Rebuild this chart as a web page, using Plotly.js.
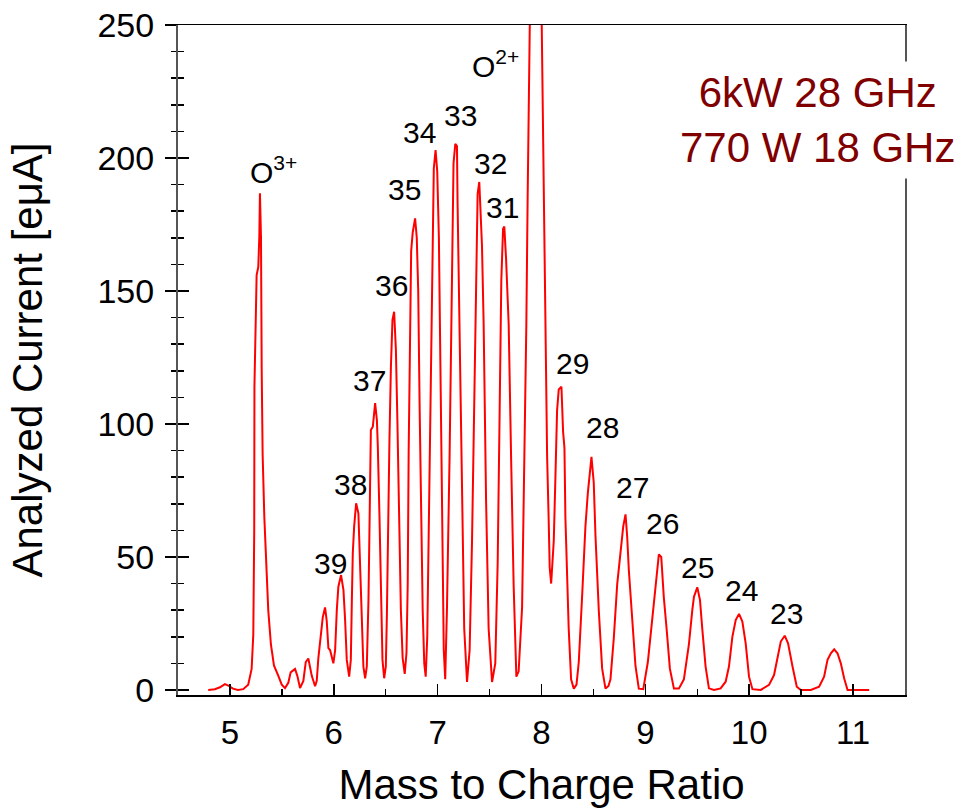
<!DOCTYPE html>
<html>
<head>
<meta charset="utf-8">
<script src="https://cdn.plot.ly/plotly-3.0.1.min.js"></script>
<style>html,body{margin:0;padding:0;background:#fff;}#chart{width:958px;height:808px;}</style>
</head>
<body>
<div id="chart"></div>
<script>
// Mass-to-charge ratio (x) and analyzed current in eμA (y)
const massToCharge = [
 4.791,4.855,4.904,4.952,4.990,5.029,5.077,5.128,5.176,5.209,5.225,5.234,5.236,5.248,5.257,5.273,5.283,5.289,5.299,5.306,
 5.315,5.331,5.354,5.369,5.395,5.424,5.466,5.499,5.530,5.562,5.585,5.627,5.649,5.675,5.707,5.730,5.755,5.771,5.788,5.820,
 5.836,5.851,5.875,5.894,5.916,5.932,5.948,5.964,5.996,6.013,6.029,6.044,6.070,6.093,6.109,6.125,6.148,6.164,6.174,6.183,
 6.196,6.215,6.237,6.254,6.270,6.285,6.302,6.318,6.334,6.343,6.357,6.376,6.398,6.415,6.424,6.440,6.453,6.469,6.485,6.501,
 6.511,6.521,6.536,6.550,6.565,6.581,6.598,6.613,6.630,6.646,6.663,6.683,6.700,6.712,6.721,6.734,6.745,6.760,6.783,6.799,
 6.813,6.827,6.842,6.856,6.871,6.885,6.900,6.914,6.931,6.947,6.963,6.980,6.996,7.012,7.028,7.044,7.059,7.073,7.090,7.115,
 7.138,7.153,7.170,7.186,7.192,7.211,7.234,7.256,7.283,7.308,7.331,7.353,7.372,7.385,7.401,7.411,7.427,7.443,7.466,7.491,
 7.524,7.555,7.578,7.597,7.613,7.630,7.642,7.659,7.684,7.707,7.732,7.758,7.780,7.813,7.835,7.854,7.867,7.883,7.941,7.999,
 8.021,8.038,8.054,8.069,8.079,8.093,8.118,8.134,8.150,8.166,8.192,8.208,8.221,8.230,8.247,8.262,8.285,8.311,8.337,8.359,
 8.392,8.423,8.446,8.465,8.481,8.503,8.520,8.552,8.584,8.616,8.645,8.664,8.696,8.729,8.761,8.787,8.809,8.825,8.841,8.874,
 8.905,8.937,8.980,9.024,9.067,9.098,9.130,9.153,9.178,9.204,9.236,9.275,9.323,9.371,9.419,9.452,9.468,9.500,9.526,9.549,
 9.580,9.612,9.661,9.725,9.773,9.805,9.838,9.870,9.902,9.934,9.966,9.998,10.031,10.111,10.191,10.239,10.272,10.304,10.342,10.374,
 10.417,10.458,10.497,10.593,10.673,10.721,10.754,10.786,10.818,10.850,10.882,10.914,10.947,11.011,11.155
];
const current = [
 0,0.3,1.0,2.2,1.5,0.5,0,0.3,2,7.9,20.9,60,114,135,156,159,170.5,186.7,170.5,119.7,
 88.5,65.1,41.7,30,17,9.2,5.3,2,0.7,2.7,6.6,7.9,5.3,0.7,3.4,10.5,11.8,9.2,5.3,1.4,
 3.4,11.8,20.9,27.4,31,26,15.7,15,10,15,30,38.8,43.2,37.6,26.3,11.3,5,11.3,33.8,51.4,
 61.4,70.2,66.4,46.4,23.8,8.8,4.4,8.8,33.8,65.2,97.7,99,107.8,101.5,91.5,65.2,33.8,11.3,4.4,8.8,
 27.6,58.9,94,121.5,139.1,142.2,128,100,62,30,12,6,14,40,90,140,165,172,177.3,170,
 150,105,62,30,10,5,20,60,108,170,196,203,195,170,108,57,15,4,31,88,
 154,198,205.3,204.5,183,137.5,72,23,3,15,56,113,167,186.5,191,183,167,137.5,72,23,
 3,10,47.6,105,154,173.4,174.2,162,137.5,88,39,5,7,31,80,137.5,186.5,260,420,260,
 186.5,137.5,88,64,46,40,56,80,105,113,114,97,91,65,42,23,4,0.5,2,10.5,
 36,61.5,74,80.6,87.6,78,57.7,29.6,8,0.5,1.5,4,19.4,39.8,52.6,61.5,66,57.7,45,27,
 9,0.5,0.3,10.5,27,41,51,50,34.7,23.3,8,0.5,0.5,4,17,30,35,38.6,33.8,22.6,
 8.8,0.6,0,0.6,3.1,8.8,20,26.3,28.6,25.7,17.5,5,0.3,0,1.9,5.6,12.5,18.2,20.4,17.5,
 8.8,1.2,0,0,1.2,5,11.3,13.8,15.3,13.8,10,4.4,0,0,0
];
// Peak labels (charge states) and their positions
const peakLabels = ["O<sup>3+</sup>","39","38","37","36","35","34","33","32","31","O<sup>2+</sup>","29","28","27","26","25","24","23"];
const labelX = [5.415,5.964,6.157,6.340,6.553,6.678,6.827,7.223,7.507,7.626,7.560,8.303,8.587,8.877,9.166,9.499,9.923,10.362];
const labelY = [195.5,47.7,77.4,116.2,152.1,188.0,209.4,215.9,197.9,181.4,235.3,122.7,98.7,76.1,62.4,46.1,37.4,28.8];
const conditionText = "6kW 28 GHz<br>770 W 18 GHz";

const FONT = 'Arial, "Liberation Sans", sans-serif';

const traces = [
  {x: massToCharge, y: current, type: 'scatter', mode: 'lines',
   line: {color: '#ff0000', width: 2}, hoverinfo: 'skip', showlegend: false},
  {x: [null], y: [null], yaxis: 'y2', type: 'scatter', mode: 'lines', hoverinfo: 'skip', showlegend: false}
];

const annotations = peakLabels.map((t, i) => ({
  x: labelX[i], y: labelY[i], xref: 'x', yref: 'y', text: t, showarrow: false,
  xanchor: 'center', yanchor: 'middle', font: {family: FONT, size: 30, color: '#000'}
}));
annotations.push({
  xref: 'paper', yref: 'paper', x: 0.879, y: 0.858, xanchor: 'center', yanchor: 'middle',
  text: conditionText, showarrow: false, bgcolor: '#ffffff', borderpad: 7,
  font: {family: FONT, size: 42, color: '#800000'}
});

const layout = {
  width: 958, height: 808,
  margin: {l: 178, r: 53, t: 25, b: 113},
  paper_bgcolor: '#fff', plot_bgcolor: '#fff',
  font: {family: FONT, color: '#000'},
  showlegend: false,
  xaxis: {
    range: [4.5, 11.5], tick0: 5, dtick: 1, ticks: 'inside', ticklen: 11, tickwidth: 1.5, tickcolor: '#000',
    minor: {dtick: 0.5, ticks: 'inside', ticklen: 6, tickwidth: 1.5, tickcolor: '#000'},
    showline: true, linecolor: '#000', linewidth: 1.5, mirror: true, showgrid: false, zeroline: false,
    tickfont: {family: FONT, size: 33, color: '#000'}, ticklabelstandoff: 8,
    title: {text: 'Mass to Charge Ratio', font: {family: FONT, size: 42, color: '#000'}, standoff: 22}
  },
  yaxis: {
    range: [-1.9, 250], tick0: 0, dtick: 50, ticks: 'outside', ticklen: 11, tickwidth: 1.5, tickcolor: '#000',
    minor: {dtick: 10, ticks: 'outside', ticklen: 5.5, tickwidth: 1.5, tickcolor: '#000'},
    showline: true, linecolor: '#555', linewidth: 2, mirror: true, showgrid: false, zeroline: false,
    tickfont: {family: FONT, size: 34, color: '#000'}, ticklabelstandoff: 4,
    title: {text: 'Analyzed Current [eμA]', font: {family: FONT, size: 42, color: '#000'}, standoff: 42}
  },
  yaxis2: {
    overlaying: 'y', side: 'left', range: [-1.9, 250], tick0: 0, dtick: 50,
    ticks: 'inside', ticklen: 11, tickwidth: 1.5, tickcolor: '#000',
    minor: {dtick: 10, ticks: 'inside', ticklen: 5.5, tickwidth: 1.5, tickcolor: '#000'},
    showticklabels: false, showline: false, showgrid: false, zeroline: false
  },
  annotations: annotations
};

Plotly.newPlot('chart', traces, layout, {staticPlot: true, displayModeBar: false});
</script>
</body>
</html>
